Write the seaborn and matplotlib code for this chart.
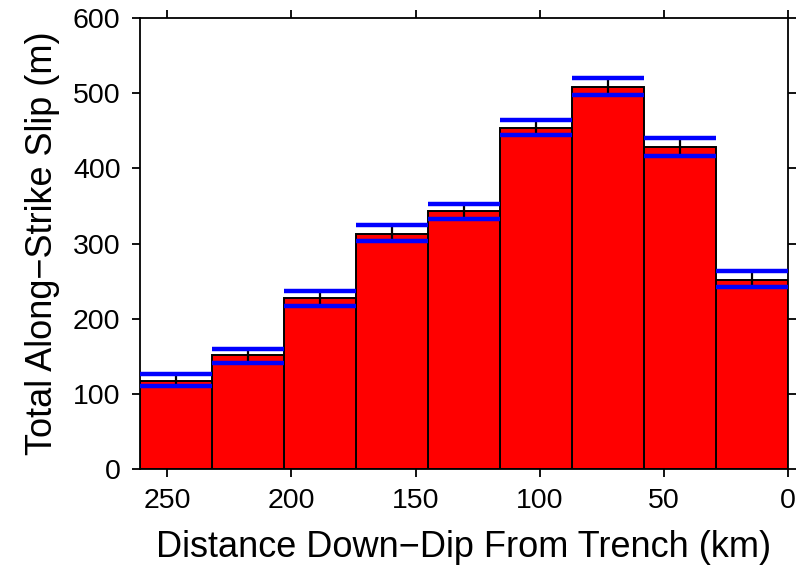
import matplotlib
matplotlib.use("Agg")
import matplotlib.pyplot as plt
import seaborn as sns
import pandas as pd

# Data (distance of bin centre from trench, km)
distance_km = [246.5, 217.5, 188.5, 159.5, 130.5, 101.5, 72.5, 43.5, 14.5]
slip_m = [117, 151, 227, 313, 343, 454, 508, 428, 251]
slip_upper = [126, 160, 237, 325, 353, 464, 520, 440, 264]
slip_lower = [110, 141, 217, 303, 333, 445, 497, 417, 242]
bin_width_km = 29
x_ticks = [250, 200, 150, 100, 50, 0]
y_ticks = [0, 100, 200, 300, 400, 500, 600]

sns.set_style("ticks")
plt.rcParams["font.family"] = ["Liberation Sans", "DejaVu Sans"]
plt.rcParams["text.color"] = "black"
plt.rcParams["axes.labelcolor"] = "black"

df = pd.DataFrame({"dist": distance_km, "slip": slip_m})

fig = plt.figure(figsize=(8.08, 5.70), dpi=100)
ax = fig.add_axes([0.1733, 0.1772, 0.9752 - 0.1733, 0.9684 - 0.1772])

sns.barplot(data=df, x="dist", y="slip", native_scale=True, width=1,
            color="#ff0000", saturation=1, edgecolor="black", linewidth=1.4,
            errorbar=None, ax=ax, zorder=2)

half = bin_width_km / 2
xs = df["dist"].to_numpy()
ax.vlines(xs, slip_lower, slip_upper, color="black", linewidth=1.6, zorder=3)
ax.hlines(slip_upper, xs - half, xs + half, color="#0000ff", linewidth=3.2, zorder=4)
ax.hlines(slip_lower, xs - half, xs + half, color="#0000ff", linewidth=3.2, zorder=4)

ax.set_xlim(261, 0)
ax.set_ylim(0, 600)
ax.set_xticks(x_ticks)
ax.set_xticklabels([str(t) for t in x_ticks])
ax.set_yticks(y_ticks)
ax.set_yticklabels([str(t) for t in y_ticks])

for s in ax.spines.values():
    s.set_visible(True)
    s.set_linewidth(1.3)
    s.set_color("black")
ax.tick_params(axis="both", which="both", direction="out", length=6, width=1.3,
               labelsize=20.5, pad=8, colors="black",
               top=True, right=True, labeltop=False, labelright=False)

ax.set_xlabel("Distance Down\u2212Dip From Trench (km)", fontsize=26, labelpad=11, color="black")
ax.set_ylabel("Total Along\u2212Strike Slip (m)", fontsize=26, labelpad=9, color="black")

fig.savefig("out.png", dpi=100)
